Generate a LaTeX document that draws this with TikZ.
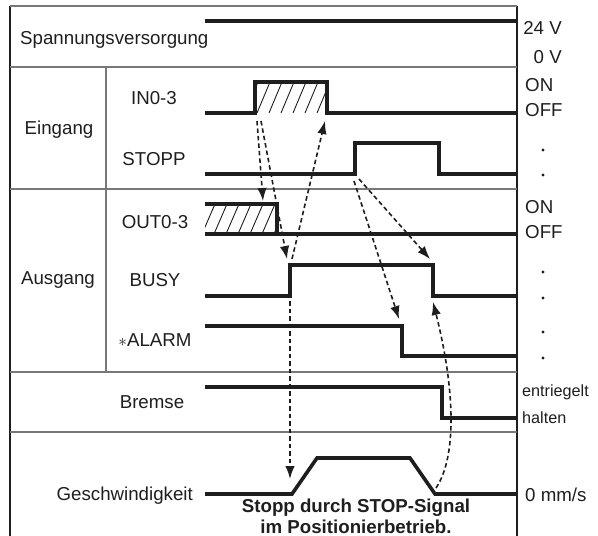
\documentclass[tikz,border=0pt]{standalone}
\usepackage{fontspec}
\setmainfont{Liberation Sans}
\usepackage{tikz}
\usetikzlibrary{arrows.meta, calc}
\definecolor{inkblack}{RGB}{30, 30, 30}
\definecolor{rulegray}{RGB}{120, 120, 120}

\tikzset{
  lbl/.style={inner sep=0pt, font=\fontsize{18.7}{20}\selectfont, text=inkblack},
  smalllbl/.style={inner sep=0pt, font=\fontsize{16.2}{18}\selectfont, text=inkblack},
  capt/.style={inner sep=0pt, align=center, font=\fontsize{18.7}{21}\selectfont\bfseries, text=inkblack},
  sig/.style={line width=3.6pt, inkblack, line join=miter},
  sep/.style={line width=1.1pt, rulegray},
  hatch/.style={line width=0.9pt, inkblack},
  cause/.style={dashed, dash pattern=on 4.5pt off 3pt, line width=1.6pt, inkblack,
    -{Latex[length=13pt,width=9.5pt]}},
  dotmark/.style={circle, fill=inkblack, inner sep=0pt, minimum size=3.2pt}
}

\begin{document}
\begin{tikzpicture}[x=1pt, y=-1pt]
  \useasboundingbox (0,0) rectangle (598,536);
  % Frame and row separators
  \draw[line width=1.2pt, inkblack] (10,6) -- (10,536);
  \draw[line width=1.2pt, inkblack] (517,6) -- (517,536);
  \foreach \yy in {6, 67, 189, 372, 432}
    \draw[sep] (10,\yy) -- (517,\yy);
  \draw[sep] (106,67) -- (106,372);

  % Row labels
  \node[lbl, anchor=west] (supply) at (20,40) {Spannungsversorgung};
  \node[lbl] (eingang) at (59,130) {Eingang};
  \node[lbl] (ausgang) at (58,280) {Ausgang};
  \node[lbl] (in03) at (154,98) {IN0-3};
  \node[lbl] (stopp) at (154,159) {STOPP};
  \node[lbl] (out03) at (155,222) {OUT0-3};
  \node[lbl] (busy) at (155,280) {BUSY};
  \node[lbl] (alarm) at (155,340) {$\ast$ALARM};
  \node[lbl] (bremse) at (152,402) {Bremse};
  \node[lbl, anchor=east] (speed) at (193,496) {Geschwindigkeit};

  % Level labels on the right
  \node[lbl, anchor=east] (v24) at (562,28) {24 V};
  \node[lbl, anchor=east] (v0) at (562,57) {0 V};
  \node[lbl, anchor=west] (on1) at (525,85) {ON};
  \node[lbl, anchor=west] (off1) at (525,110) {OFF};
  \node[lbl, anchor=west] (on2) at (525,207) {ON};
  \node[lbl, anchor=west] (off2) at (525,232) {OFF};
  \node[smalllbl, anchor=west] (unlock) at (522,392) {entriegelt};
  \node[smalllbl, anchor=west] (hold) at (522,418) {halten};
  \node[lbl, anchor=west] (zero) at (525,495) {0 mm/s};
  \foreach \yy [count=\i] in {150, 175, 272, 298, 332, 358}
    \node[dotmark] (dot\i) at (543,\yy) {};

  % Signals
  \draw[sig] (205,21) -- (517,21);
  % IN0-3
  \begin{scope}
    \clip (255,82) rectangle (327,113);
    \foreach \xx in {245,257,...,335}
      \draw[hatch] (\xx,113) -- (\xx+13,82);
  \end{scope}
  \draw[sig] (205,113) -- (255,113) -- (255,82) -- (327,82) -- (327,113) -- (517,113);
  % STOPP
  \draw[sig] (205,174) -- (355,174) -- (355,143) -- (439,143) -- (439,174) -- (517,174);
  % OUT0-3
  \begin{scope}
    \clip (205,204) rectangle (277,234);
    \foreach \xx in {190,202,...,285}
      \draw[hatch] (\xx,234) -- (\xx+13,204);
  \end{scope}
  \draw[sig] (205,204) -- (277,204) -- (277,234);
  \draw[sig] (205,234) -- (517,234);
  % BUSY
  \draw[sig] (205,296) -- (290,296) -- (290,265) -- (433,265) -- (433,296) -- (517,296);
  % ALARM
  \draw[sig] (205,326) -- (402,326) -- (402,356) -- (517,356);
  % Bremse
  \draw[sig] (205,387) -- (442,387) -- (442,418) -- (517,418);
  % Geschwindigkeit
  \draw[sig] (205,494) -- (292,494) -- (317,458) -- (410,458) -- (435,494) -- (517,494);

  % Cause and effect
  \coordinate (inRiseA) at (257,121);
  \coordinate (inRiseB) at (261,121);
  \coordinate (outFall) at (263,201);
  \coordinate (busyRiseTop) at (287,259);
  \coordinate (busyRiseFoot) at (292,259);
  \coordinate (inFall) at (325,121);
  \coordinate (busyRiseLow) at (290,301);
  \coordinate (speedStart) at (290,479);
  \coordinate (stopRiseA) at (354,181);
  \coordinate (stopRiseB) at (359,179);
  \coordinate (alarmFall) at (399,319);
  \coordinate (busyFall) at (430,259);
  \coordinate (speedEnd) at (436,488);
  \coordinate (busyFallLow) at (433,302);

  \draw[cause] (inRiseA) -- (outFall);
  \draw[cause] (inRiseB) -- (busyRiseTop);
  \draw[cause] (busyRiseFoot) -- (inFall);
  \draw[cause] (busyRiseLow) -- (speedStart);
  \draw[cause] (stopRiseA) -- (alarmFall);
  \draw[cause] (stopRiseB) -- (busyFall);
  \draw[cause] (speedEnd) .. controls (458,455) and (454,385) .. (busyFallLow);

  % Caption
  \node[capt] (caption) at (356,516) {Stopp durch STOP-Signal\\im Positionierbetrieb.};
\end{tikzpicture}
\end{document}
